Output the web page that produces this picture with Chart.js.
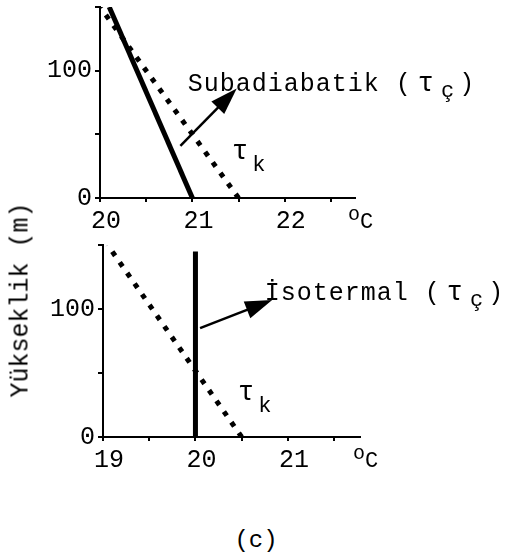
<!DOCTYPE html>
<html>
<head>
<meta charset="utf-8">
<script src="https://cdn.jsdelivr.net/npm/chart.js@4.4.1/dist/chart.umd.min.js"></script>
<style>
  body { margin: 0; background: #fff; }
  #wrap { position: relative; width: 508px; height: 557px; font-family: "Liberation Mono", monospace; color: #000; }
  canvas { position: absolute; left: 0; }
  #ytitle { position: absolute; left: 21px; top: 300px; transform: translate(-50%, -50%) rotate(-90deg); font-size: 25px; white-space: nowrap; }
  #caption { position: absolute; left: 256px; top: 540px; transform: translate(-50%, -50%); font-size: 24px; }
</style>
</head>
<body>
<div id="wrap">
  <canvas id="topChart" width="508" height="240" style="top:0"></canvas>
  <canvas id="botChart" width="508" height="240" style="top:240px"></canvas>
  <div id="ytitle">Yükseklik (m)</div>
  <div id="caption">(c)</div>
</div>
<script>
// heights (m) and temperatures (°C)
const heights = [0, 150];
const subTemp = [21.0, 20.1];      // subadiabatik τç
const dryTopTemp = [21.5, 20.0];   // τk, upper panel
const isoHeights = [0, 145];
const isoTemp = [20.0, 20.0];      // isotermal τç
const dryBotTemp = [20.5, 19.05];  // τk, lower panel

const yTicks = [0, 50, 100, 150];
const yLabelled = [0, 100];
const xTicksTop = [20, 20.5, 21, 21.5, 22, 22.5];
const xTicksBot = [19, 19.5, 20, 20.5, 21, 21.5];

const FONT = 'Liberation Mono';
const zip = (xs, ys) => xs.map((v, i) => ({ x: v, y: ys[i] }));

function drawArrow(ctx, x1, y1, x2, y2) {
  const a = Math.atan2(y2 - y1, x2 - x1);
  const len = 27, half = 9;
  const bx = x2 - len * Math.cos(a), by = y2 - len * Math.sin(a);
  ctx.lineWidth = 2.5;
  ctx.beginPath(); ctx.moveTo(x1, y1); ctx.lineTo(bx + 2 * Math.cos(a), by + 2 * Math.sin(a)); ctx.stroke();
  ctx.beginPath();
  ctx.moveTo(x2, y2);
  ctx.lineTo(bx + half * Math.sin(a), by - half * Math.cos(a));
  ctx.lineTo(bx - half * Math.sin(a), by + half * Math.cos(a));
  ctx.closePath(); ctx.fill();
}

// parts: [text, size, dy, gapBefore]
function drawRich(ctx, x, y, parts) {
  let cx = x;
  ctx.textBaseline = 'alphabetic';
  ctx.textAlign = 'left';
  for (const [t, size, dy, gap] of parts) {
    cx += gap || 0;
    ctx.font = size + 'px "' + FONT + '"';
    ctx.letterSpacing = '1px';
    ctx.fillText(t, cx, y + dy);
    cx += ctx.measureText(t).width;
  }
}

const notes = {
  id: 'notes',
  afterDatasetsDraw(chart, args, opts) {
    const { ctx, chartArea } = chart;
    const sx = chart.scales.x, sy = chart.scales.y;
    ctx.save();
    ctx.fillStyle = '#000';
    ctx.strokeStyle = '#000';
    for (const a of opts.arrows) {
      drawArrow(ctx, sx.getPixelForValue(a[0]), sy.getPixelForValue(a[1]),
        sx.getPixelForValue(a[2]), sy.getPixelForValue(a[3]));
    }
    for (const t of opts.texts) {
      drawRich(ctx, sx.getPixelForValue(t.x), sy.getPixelForValue(t.y), t.parts);
    }
    drawRich(ctx, chartArea.right - 7, chartArea.bottom + 22, [['o', 20, 0, 0], ['C', 22, 8, -1]]);
    ctx.restore();
  }
};

function xAxis(min, max, ticks, h) {
  return {
    type: 'linear', min, max,
    afterBuildTicks: s => { s.ticks = ticks.map(v => ({ value: v })); },
    afterFit: s => { s.height = h; s.paddingLeft = 0; s.paddingRight = 0; },
    border: { color: '#000', width: 2 },
    grid: { drawOnChartArea: false, color: '#000', lineWidth: 2, tickLength: 4 },
    ticks: {
      color: '#000', font: { family: FONT, size: 25 }, padding: 4, labelOffset: 6,
      maxRotation: 0, autoSkip: false,
      callback: v => Number.isInteger(v) ? String(v) : ''
    }
  };
}

function yAxis(w) {
  return {
    type: 'linear', min: 0, max: 150,
    afterBuildTicks: s => { s.ticks = yTicks.map(v => ({ value: v })); },
    afterFit: s => { s.width = w; s.paddingTop = 0; s.paddingBottom = 0; },
    border: { color: '#000', width: 2 },
    grid: { drawOnChartArea: false, color: '#000', lineWidth: 2, tickLength: 5 },
    ticks: {
      color: '#000', font: { family: FONT, size: 25 }, padding: 3, autoSkip: false,
      callback: v => yLabelled.includes(v) ? String(v) : ''
    }
  };
}

const solid = { borderColor: '#000', borderWidth: 5, pointRadius: 0, fill: false };
const dotted = { borderColor: '#000', borderWidth: 5, borderDash: [5, 8], pointRadius: 0, fill: false };

function tauParts() {
  return [['τ', 27, 0, 0], ['k', 22, 12, 3]];
}

new Chart(document.getElementById('topChart'), {
  type: 'line',
  data: {
    datasets: [
      { ...dotted, data: zip(dryTopTemp, heights) },
      { ...solid, data: zip(subTemp, heights) }
    ]
  },
  options: {
    responsive: false, animation: false, devicePixelRatio: 1,
    layout: { padding: { top: 7, left: 0, right: 153, bottom: 0 } },
    scales: { x: xAxis(20, 22.76, xTicksTop, 42), y: yAxis(100) },
    plugins: {
      legend: { display: false }, tooltip: { enabled: false },
      notes: {
        arrows: [[20.87, 41, 21.48, 86]],
        texts: [
          { x: 20.95, y: 84, parts: [['Subadiabatik (', 25, 0, 0], ['τ', 27, 0, 6], ['ç', 22, 6, 6], [')', 25, 0, 4]] },
          { x: 21.43, y: 31, parts: tauParts() }
        ]
      }
    }
  },
  plugins: [notes]
});

new Chart(document.getElementById('botChart'), {
  type: 'line',
  data: {
    datasets: [
      { ...dotted, data: zip(dryBotTemp, heights) },
      { ...solid, data: zip(isoTemp, isoHeights) }
    ]
  },
  options: {
    responsive: false, animation: false, devicePixelRatio: 1,
    layout: { padding: { top: 5, left: 0, right: 148, bottom: 0 } },
    scales: { x: xAxis(19, 21.78, xTicksBot, 43), y: yAxis(103) },
    plugins: {
      legend: { display: false }, tooltip: { enabled: false },
      notes: {
        arrows: [[20.05, 85, 20.83, 107]],
        texts: [
          { x: 20.75, y: 107, parts: [['İsotermal (', 25, 0, 0], ['τ', 27, 0, 6], ['ç', 22, 6, 6], [')', 25, 0, 4]] },
          { x: 20.46, y: 29, parts: tauParts() }
        ]
      }
    }
  },
  plugins: [notes]
});
</script>
</body>
</html>
